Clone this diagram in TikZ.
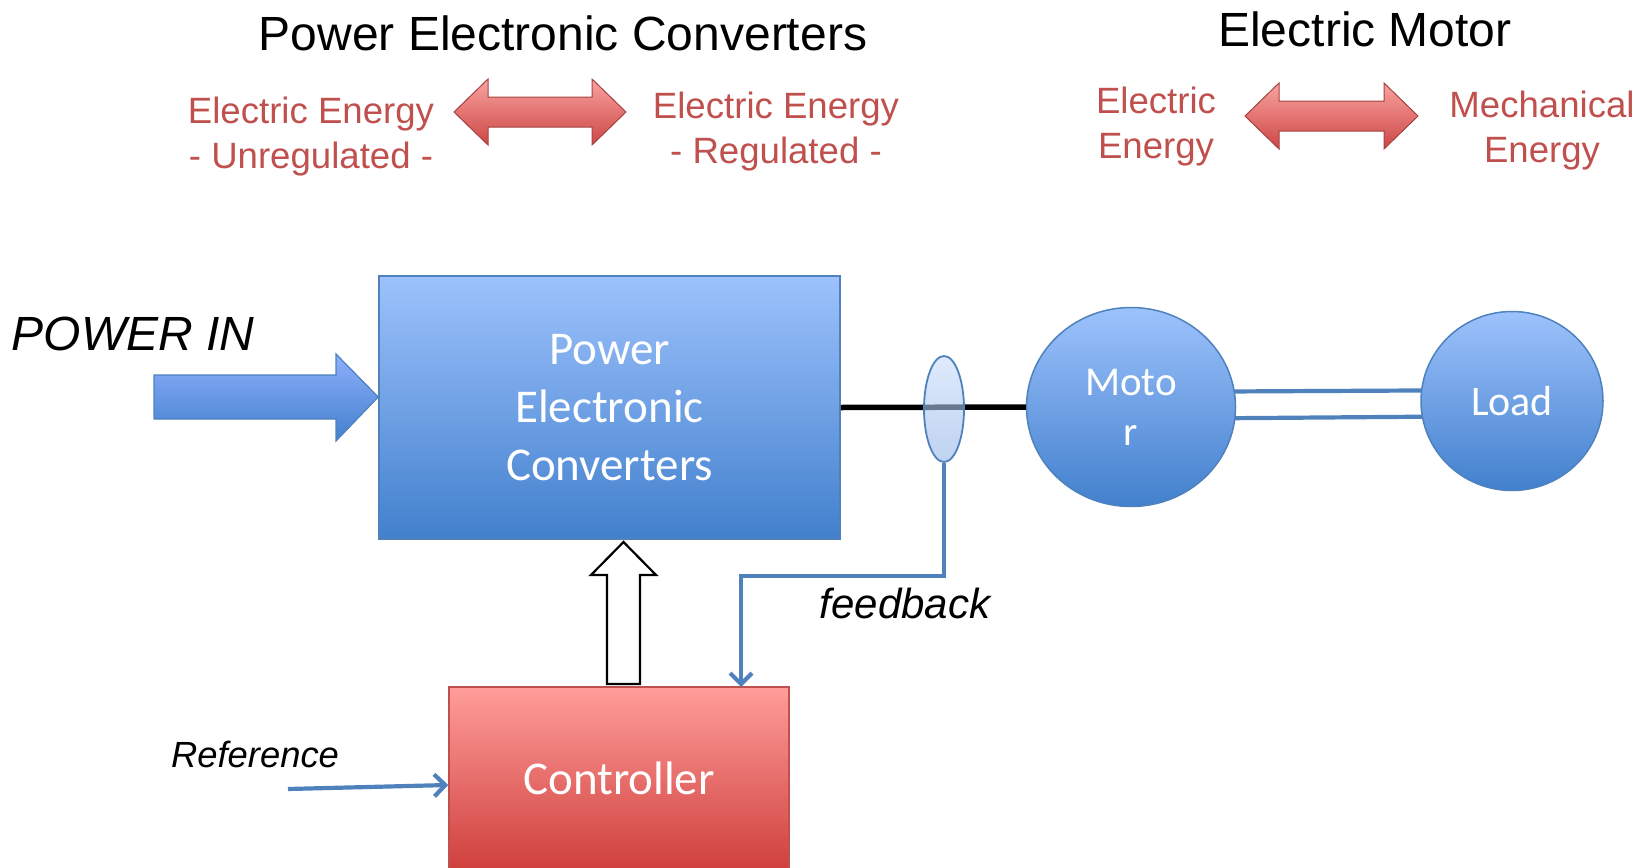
\documentclass[tikz,border=0pt]{standalone}
\usepackage{fontspec}
\setmainfont{Liberation Sans}
\newfontfamily\calibrifont{Carlito}
\usetikzlibrary{shapes.geometric,arrows.meta,backgrounds,calc}
\definecolor{redtxt}{HTML}{C0504D}
\definecolor{bluebd}{HTML}{4F81BD}
\definecolor{pectop}{HTML}{9DC2FC}
\definecolor{pecbot}{HTML}{4280CD}
\definecolor{ctltop}{HTML}{FF9D9A}
\definecolor{ctlbot}{HTML}{CF403D}
\definecolor{arrtop}{HTML}{F9A3A1}
\definecolor{arrbot}{HTML}{CC4644}
\definecolor{cttop}{HTML}{C9DDFB}
\definecolor{ctbot}{HTML}{93B4E6}
\begin{document}
\begin{tikzpicture}[x=1pt,y=-1pt,
  title/.style={font=\fontsize{48}{58}\selectfont, text=black, inner sep=0},
  redlabel/.style={font=\fontsize{36.6}{45}\selectfont, text=redtxt, align=center, inner sep=0},
  italabel/.style={font=\itshape, text=black, inner sep=0},
  bluebox/.style={draw=bluebd, line width=1.5pt, top color=pectop, bottom color=pecbot,
    text=white, align=center, inner sep=0},
  redbox/.style={draw=redtxt, line width=1.5pt, top color=ctltop, bottom color=ctlbot,
    text=white, align=center, inner sep=0},
  redarrow/.style={draw=redtxt!85!black, line width=1pt, top color=arrtop, bottom color=arrbot},
  sig/.style={draw=bluebd, line width=4.2pt},
  barb/.style={-{Straight Barb[length=11pt,width=22pt]}}
]
\useasboundingbox (0,0) rectangle (1645,867);

% titles
\node[title] (t1) at (563,33) {Power Electronic Converters};
\node[title] (t2) at (1365,29) {Electric Motor};

% red labels
\node[redlabel] (l1) at (311,137) {Electric Energy\\- Unregulated -};
\node[redlabel] (l2) at (776,132) {Electric Energy\\- Regulated -};
\node[redlabel] (l3) at (1156,127) {Electric\\Energy};
\node[redlabel] (l4) at (1542,131) {Mechanical\\Energy};

% red double arrows
\path[redarrow] (454,112) -- (488,79) -- (488,97) -- (592,97) -- (592,79) -- (626,112)
  -- (592,145) -- (592,127) -- (488,127) -- (488,145) -- cycle;
\path[redarrow] (1245,116) -- (1279,83) -- (1279,101) -- (1384,101) -- (1384,83) -- (1418,116)
  -- (1384,149) -- (1384,131) -- (1279,131) -- (1279,149) -- cycle;

% main blocks
\node[bluebox, minimum width=461pt, minimum height=263pt,
  font=\calibrifont\fontsize{47}{58}\selectfont] (pec) at (609.5,407.5)
  {Power\\Electronic\\Converters};
\node[redbox, minimum width=340pt, minimum height=182pt,
  font=\calibrifont\fontsize{47}{58}\selectfont] (ctrl) at (619,778) {Controller};
\node[ellipse, draw=bluebd, line width=1.5pt, top color=pectop, bottom color=pecbot,
  minimum width=209pt, minimum height=199pt, inner sep=0, text=white, align=center,
  font=\calibrifont\fontsize{41}{50}\selectfont] (motor) at (1131,407) {Moto\\r};
\node[ellipse, draw=bluebd, line width=1.5pt, top color=pectop, bottom color=pecbot,
  minimum width=182pt, minimum height=179pt, inner sep=0, text=white,
  font=\calibrifont\fontsize{42}{50}\selectfont] (load) at (1512,401) {Load};

% shaft
\begin{scope}[on background layer]
\draw[sig] ($(motor.center)+(0,-15)$) -- ($(load.center)+(0,-11)$);
\draw[sig] ($(motor.center)+(0,12)$) -- ($(load.center)+(0,15)$);
\end{scope}

% power line and current sensor
\draw[black, line width=5.5pt] (pec.east) -- (motor.west);
\node[ellipse, draw=bluebd, line width=1.8pt, top color=cttop, bottom color=ctbot,
  fill opacity=0.6, minimum width=40pt, minimum height=106pt, inner sep=0] (ct) at (944,409) {};

% POWER IN arrow
\node[italabel, font=\itshape\fontsize{48}{58}\selectfont] (pin) at (133,334) {POWER IN};
\path[draw=bluebd, line width=1.2pt, top color=pectop!90!blue, bottom color=pecbot]
  (154,375) -- (336,375) -- (336,354) -- (pec.west |- 0,397) -- (336,441) -- (336,419)
  -- (154,419) -- cycle;

% controller to converter hollow arrow
\draw[black, line width=2.2pt, fill=white] (607,684) -- (607,575) -- (591,575) -- (623.5,542)
  -- (656,575) -- (640,575) -- (640,684) -- cycle;

% feedback
\coordinate (fbin) at (741,687);
\draw[sig, barb] (ct.south) -- (944,576) -- (741,576) -- (fbin);
\node[italabel, font=\itshape\fontsize{42}{50}\selectfont] (fb) at (905,603) {feedback};

% reference
\node[italabel, font=\itshape\fontsize{36.4}{44}\selectfont] (ref) at (255,754) {Reference};
\coordinate (refstart) at (288,789);
\draw[sig, barb] (refstart) -- (ctrl.west |- 0,785);
\end{tikzpicture}
\end{document}
